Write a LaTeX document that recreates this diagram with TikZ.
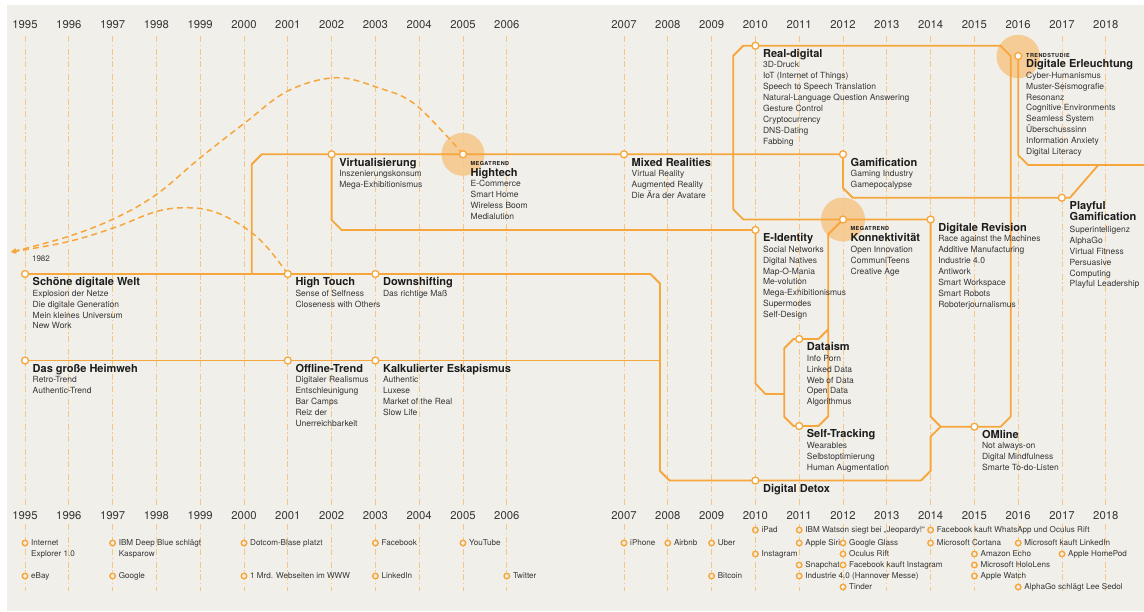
\documentclass[tikz,border=0pt]{standalone}
\usepackage{fontspec}
\setmainfont{TeX Gyre Heros}
\usetikzlibrary{arrows.meta,calc}
\definecolor{bgc}{RGB}{241,239,234}
\definecolor{org}{RGB}{246,166,58}
\definecolor{gridc}{RGB}{246,198,135}
\definecolor{halo}{RGB}{245,203,150}
\definecolor{txt}{RGB}{28,28,28}
\definecolor{itx}{RGB}{55,55,55}
\pgfdeclarelayer{back}
\pgfdeclarelayer{lines}
\pgfsetlayers{back,lines,main}
\newcommand\station[5]{%
  \node[stop] (#1) at (#2,#3) {};
  \node[ttl] (#1-t) at (#2+7.5,#3+11.7) {#4};
  \foreach \s [count=\i] in {#5} \node[itm] (#1-\i) at (#2+7.5,#3+11.3+10.9*\i) {\s};
}
\newcommand\ev[4]{%
  \node[evt] (#1) at (#2,#3) {};
  \node[etx] (#1-t) at (#2+6,#3+2.9) {#4};
}
\begin{document}
\begin{tikzpicture}[x=1pt,y=-1pt,
  route/.style={draw=org, line width=1.8pt, line join=round},
  stop/.style={circle, draw=org, fill=white, line width=1.3pt, minimum size=7pt, inner sep=0pt},
  evt/.style={circle, draw=org, fill=bgc, line width=1.4pt, minimum size=5.5pt, inner sep=0pt},
  ttl/.style={anchor=base west, inner sep=0pt, font=\fontsize{11}{13}\selectfont\bfseries, text=txt},
  itm/.style={anchor=base west, inner sep=0pt, font=\fontsize{8.5}{10.9}\selectfont, text=itx},
  tag/.style={anchor=base west, inner sep=0pt, font=\fontsize{5.5}{6}\selectfont\bfseries\addfontfeature{LetterSpace=8}, text=txt},
  etx/.style={anchor=base west, inner sep=0pt, font=\fontsize{8.1}{10}\selectfont, text=itx},
  yr/.style={inner sep=0pt, font=\fontsize{11.3}{13}\selectfont, text=itx},
  gridline/.style={draw=gridc, line width=0.9pt, dash pattern=on 6pt off 2.5pt on 1.5pt off 2.5pt},
  curve/.style={draw=org, line width=1.5pt, dash pattern=on 6pt off 4pt},
]
\useasboundingbox (0,0) rectangle (1144,611);

% ---------- year labels ----------
\foreach \y [count=\i from 0] in {1995,1996,1997,1998,1999,2000,2001,2002,2003,2004,2005,2006} {
  \node[yr] (ty-\y) at (25+43.8*\i,25) {\y};
  \node[yr] (by-\y) at (25+43.8*\i,515.5) {\y};
}
\foreach \y [count=\i from 0] in {2007,2008,2009,2010,2011,2012,2013,2014,2015,2016,2017,2018} {
  \node[yr] (ty-\y) at (624+43.8*\i,25) {\y};
  \node[yr] (by-\y) at (624+43.8*\i,515.5) {\y};
}

% ---------- stations ----------
\station{schoene}{25}{274}{Schöne digitale Welt}{Explosion der Netze,Die digitale Generation,Mein kleines Universum,New Work}
\station{hightouch}{287.8}{274}{High Touch}{Sense of Selfness,Closeness with Others}
\station{downshift}{375.4}{274}{Downshifting}{Das richtige Maß}
\station{heimweh}{25}{360.5}{Das große Heimweh}{Retro-Trend,Authentic-Trend}
\station{offline}{287.8}{360.5}{Offline-Trend}{Digitaler Realismus,Entschleunigung,Bar Camps,Reiz der,Unerreichbarkeit}
\station{eskap}{375.4}{360.5}{Kalkulierter Eskapismus}{Authentic,Luxese,Market of the Real,Slow Life}
\station{virt}{331.6}{154.3}{Virtualisierung}{Inszenierungskonsum,Mega-Exhibitionismus}
\station{mixed}{624}{154.3}{Mixed Realities}{Virtual Reality,Augmented Reality,Die Ära der Avatare}
\station{gamif}{843}{154.3}{Gamification}{Gaming Industry,Gamepocalypse}
\station{realdig}{755.4}{45.7}{Real-digital}{3D-Druck,IoT (Internet of Things),Speech to Speech Translation,Natural-Language Question Answering,Gesture Control,Cryptocurrency,DNS-Dating,Fabbing}
\station{eid}{755.4}{230}{E-Identity}{Social Networks,Digital Natives,Map-O-Mania,Me-volution,Mega-Exhibitionismus,Supermodes,Self-Design}
\station{revision}{930.6}{219.5}{Digitale Revision}{Race against the Machines,Additive Manufacturing,Industrie 4.0,Antiwork,Smart Workspace,Smart Robots,Roboterjournalismus}
\station{dataism}{799.2}{339}{Dataism}{Info Porn,Linked Data,Web of Data,Open Data,Algorithmus}
\station{selftrack}{799.2}{426}{Self-Tracking}{Wearables,Selbstoptimierung,Human Augmentation}
\station{omline}{974.4}{426.7}{OMline}{Not always-on,Digital Mindfulness,Smarte To-do-Listen}

\node[stop] (hightech) at (463,154.3) {};
\node[tag] (hightech-m) at (470.5,165) {MEGATREND};
\node[ttl] (hightech-t) at (470.5,176.7) {Hightech};
\foreach \s [count=\i] in {E-Commerce,Smart Home,Wireless Boom,Medialution}
  \node[itm] (hightech-\i) at (470.5,176+10.9*\i) {\s};

\node[stop] (konnekt) at (843,219.5) {};
\node[tag] (konnekt-m) at (850.5,230.3) {MEGATREND};
\node[ttl] (konnekt-t) at (850.5,241.7) {Konnektivität};
\foreach \s [count=\i] in {Open Innovation,CommuniTeens,Creative Age}
  \node[itm] (konnekt-\i) at (850.5,241.5+10.9*\i) {\s};

\node[stop] (erleucht) at (1018.2,56) {};
\node[tag] (erleucht-m) at (1026,57) {TRENDSTUDIE};
\node[ttl] (erleucht-t) at (1026,67.3) {Digitale Erleuchtung};
\foreach \s [count=\i] in {Cyber-Humanismus,Muster-Seismografie,Resonanz,Cognitive Environments,Seamless System,Überschusssinn,Information Anxiety,Digital Literacy}
  \node[itm] (erleucht-\i) at (1026,67.3+10.9*\i) {\s};

\node[stop] (playful) at (1061.8,197.7) {};
\node[ttl] (playful-t) at (1069.5,209) {Playful};
\node[ttl] (playful-t2) at (1069.5,220) {Gamification};
\foreach \s [count=\i] in {Superintelligenz,AlphaGo,Virtual Fitness,Persuasive,Computing,Playful Leadership}
  \node[itm] (playful-\i) at (1069.5,221.5+10.9*\i) {\s};

\node[stop] (detox) at (755.4,480.5) {};
\node[ttl] (detox-t) at (762.9,492.2) {Digital Detox};

\coordinate (y1982) at (11,252);
\node[inner sep=0pt, font=\fontsize{8}{9}\selectfont, text=itx] (l1982) at (41,258.5) {1982};

% ---------- events ----------
\ev{e1}{25}{543}{Internet}
\node[etx] (e1-b) at (31,556.9) {Explorer 1.0};
\ev{e2}{25}{576}{eBay}
\ev{e3}{112.6}{543}{IBM Deep Blue schlägt}
\node[etx] (e3-b) at (118.6,556.9) {Kasparow};
\ev{e4}{112.6}{576}{Google}
\ev{e5}{244}{543}{Dotcom-Blase platzt}
\ev{e6}{244}{576}{1 Mrd. Webseiten im WWW}
\ev{e7}{375.4}{543}{Facebook}
\ev{e8}{375.4}{576}{LinkedIn}
\ev{e9}{463}{543}{YouTube}
\ev{e10}{506.8}{576}{Twitter}
\ev{e11}{624}{543}{iPhone}
\ev{e12}{667.8}{543}{Airbnb}
\ev{e13}{711.6}{543}{Uber}
\ev{e14}{711.6}{576}{Bitcoin}
\ev{e15}{755.4}{530}{iPad}
\ev{e16}{755.4}{554}{Instagram}
\ev{e17}{799.2}{530}{IBM Watson siegt bei „Jeopardy!“}
\ev{e18}{799.2}{543}{Apple Siri}
\ev{e19}{799.2}{565}{Snapchat}
\ev{e20}{799.2}{576}{Industrie 4.0 (Hannover Messe)}
\ev{e21}{843}{543}{Google Glass}
\ev{e22}{843}{554}{Oculus Rift}
\ev{e23}{843}{565}{Facebook kauft Instagram}
\ev{e24}{843}{587}{Tinder}
\ev{e25}{930.6}{530}{Facebook kauft WhatsApp und Oculus Rift}
\ev{e26}{930.6}{543}{Microsoft Cortana}
\ev{e27}{974.4}{554}{Amazon Echo}
\ev{e28}{974.4}{565}{Microsoft HoloLens}
\ev{e29}{974.4}{576}{Apple Watch}
\ev{e30}{1018.2}{543}{Microsoft kauft LinkedIn}
\ev{e31}{1018.2}{587}{AlphaGo schlägt Lee Sedol}
\ev{e32}{1062}{554}{Apple HomePod}

% ---------- background, halos, grid ----------
\begin{pgfonlayer}{back}
  \fill[white] (0,0) rectangle (1144,611);
  \fill[bgc] (7,5) rectangle (1144,611);
  \fill[halo] (hightech.center) circle (21.5);
  \fill[halo] (konnekt.center) circle (22);
  \fill[halo] (1018.2,56.5) circle (21.7);
  \foreach \i in {0,...,11} {
    \draw[gridline] (25+43.8*\i,36) -- (25+43.8*\i,505);
    \draw[gridline] (25+43.8*\i,524) -- (25+43.8*\i,591);
    \draw[gridline] (624+43.8*\i,36) -- (624+43.8*\i,505);
    \draw[gridline] (624+43.8*\i,524) -- (624+43.8*\i,591);
  }
\end{pgfonlayer}

% ---------- routes ----------
\begin{pgfonlayer}{lines}
  \draw[route] (schoene.center) -- (hightouch.center) -- (downshift.center) -- (650.5,274) -- (660,283.5) -- (660,471) -- (669.5,480.5) -- (detox.center) -- (921,480.5) -- (930.6,470.9) -- (930.6,436.6) -- (940.7,426.7) -- (omline.center) -- (1000.6,426.7) -- (1010.7,416.6) -- (1010.7,56.1) -- (1000.3,45.7) -- (realdig.center) -- (743.3,45.7) -- (733.3,55.7) -- (733.3,209.5) -- (743.3,219.5) -- (konnekt.center) -- (revision.center) -- (930.6,416.6) -- (940.7,426.7);
  \draw[route] (heimweh.center) -- (offline.center) -- (eskap.center) -- (660,360.5);
  \draw[route] (251.7,274) -- (251.7,164.3) -- (261.7,154.3) -- (virt.center) -- (hightech.center) -- (mixed.center) -- (gamif.center) -- (843,188) -- (852.7,197.7) -- (playful.center) -- (1070,197.7) -- (1098.3,165) -- (1144,165);
  \draw[route] (virt.center) -- (331.6,220) -- (341.6,230) -- (eid.center) -- (755.4,383.5) -- (765.4,394) -- (784.3,394);
  \draw[route] (erleucht.center) -- (1018.2,155) -- (1028.2,165) -- (1144,165);
  \draw[route] (konnekt.center) -- (828.3,234.2) -- (828.3,416.2) -- (818.5,426) -- (selftrack.center) -- (793.5,426) -- (784.3,416.8) -- (784.3,348.2) -- (793.5,339) -- (dataism.center) -- (818.5,339) -- (828.3,329.2);
  \draw[curve, -{Triangle[length=5pt,width=5pt]}] plot[smooth, tension=0.6] coordinates {(hightech.center) (443,132) (412,102) (380,88.3) (336.7,77.7) (288.3,90.7) (244.3,123.3) (200,158) (155.7,195) (113.3,219) (66.7,237) (y1982)};
  \draw[curve, -{Triangle[length=5pt,width=5pt]}] plot[smooth, tension=0.6] coordinates {(hightouch.center) (266,246) (244.3,227.3) (215,212) (186.7,207.7) (155.7,211.7) (113.3,228) (66.7,242) (y1982)};
\end{pgfonlayer}
\end{tikzpicture}
\end{document}
